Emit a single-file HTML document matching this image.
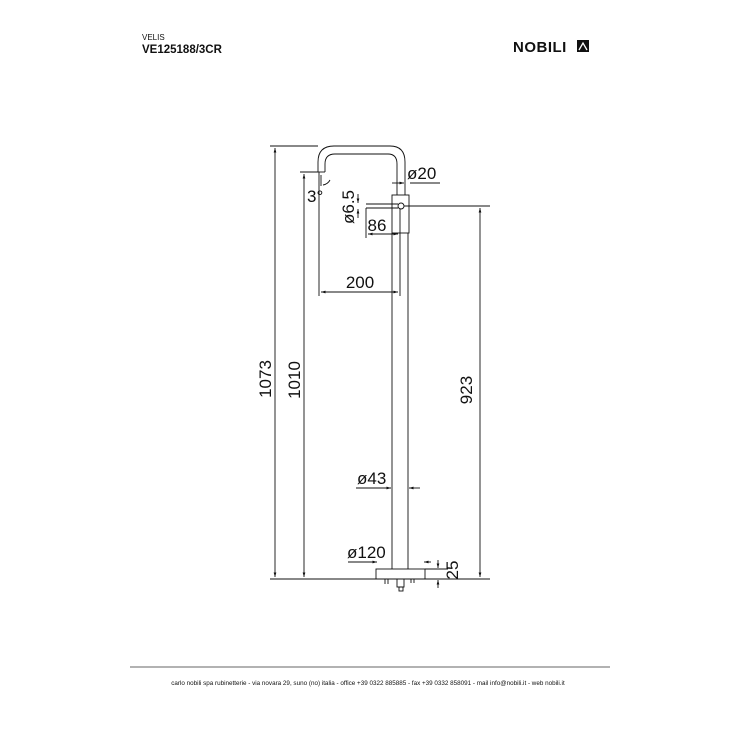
<!DOCTYPE html>
<html><head><meta charset="utf-8"><style>
body{margin:0;background:#fff}
svg{display:block}
text{font-family:"Liberation Sans",Arial,sans-serif;fill:#111}
</style></head><body>
<svg width="737" height="737" viewBox="0 0 737 737" xmlns="http://www.w3.org/2000/svg">
<defs>
<marker id="a" viewBox="0 0 10 10" refX="10" refY="5" markerWidth="5" markerHeight="5" orient="auto-start-reverse"><path d="M0,2 L10,5 L0,8 z" fill="#111"/></marker>
</defs>
<text x="142" y="40" font-size="8" fill="#555">VELIS</text>
<text x="142" y="53" font-size="11.5" font-weight="bold">VE125188/3CR</text>
<text x="513" y="52" font-size="15" font-weight="bold" letter-spacing="0.5">NOBILI</text>
<rect x="577" y="40" width="12" height="12" fill="#111"/>
<path d="M579,50 L583,43 L587,50" stroke="#fff" stroke-width="1.3" fill="none"/>
<line x1="130" y1="667" x2="610" y2="667" stroke="#333" stroke-width="0.8"/>
<text x="368" y="685" font-size="6.3" text-anchor="middle" fill="#444">carlo nobili spa rubinetterie - via novara 29, suno (no) italia - office +39 0322 885885 - fax +39 0332 858091 - mail info@nobili.it - web nobili.it</text>
<g stroke="#111" stroke-width="0.9" fill="none">
<path d="M318,172 L318,162 Q318,146 334,146 L390,146 Q405,146 405,162 L405,195"/>
<path d="M325,172 L325,164 Q325,154 335,154 L388,154 Q397,154 397,164 L397,195"/>
<line x1="318" y1="172" x2="325" y2="172"/>
<rect x="392" y="195" width="17" height="38"/>
<line x1="392" y1="233" x2="392" y2="569"/>
<line x1="408" y1="233" x2="408" y2="569"/>
<rect x="376" y="569" width="49" height="10"/>
<rect x="397" y="579" width="7" height="8"/>
<rect x="399" y="587" width="4" height="4"/>
<line x1="385" y1="579" x2="385" y2="584"/><line x1="388" y1="579" x2="388" y2="584"/>
<line x1="411" y1="579" x2="411" y2="583"/><line x1="414" y1="579" x2="414" y2="583"/>
<line x1="366" y1="204" x2="398" y2="204"/>
<line x1="366" y1="208" x2="398" y2="208"/>
<circle cx="401" cy="206" r="3"/>
<line x1="270" y1="579" x2="490" y2="579"/>
<line x1="270" y1="146" x2="318" y2="146"/>
<line x1="300" y1="172" x2="318" y2="172"/>
<line x1="404" y1="206" x2="490" y2="206"/>
<line x1="319" y1="172" x2="319" y2="296"/>
<line x1="366" y1="208" x2="366" y2="238"/>
<line x1="400" y1="209" x2="400" y2="296"/>
<line x1="321" y1="175" x2="321" y2="186"/>
<line x1="410" y1="183" x2="440" y2="183"/>
<line x1="425" y1="569" x2="448" y2="569"/>
<line x1="275" y1="148" x2="275" y2="577" marker-start="url(#a)" marker-end="url(#a)"/>
<line x1="304" y1="174" x2="304" y2="577" marker-start="url(#a)" marker-end="url(#a)"/>
<line x1="480" y1="208" x2="480" y2="577" marker-start="url(#a)" marker-end="url(#a)"/>
<line x1="321" y1="292" x2="398" y2="292" marker-start="url(#a)" marker-end="url(#a)"/>
<line x1="368" y1="234" x2="398" y2="234" marker-start="url(#a)" marker-end="url(#a)"/>
<line x1="392" y1="183" x2="404" y2="183" marker-end="url(#a)"/>
<line x1="358" y1="194" x2="358" y2="203" marker-end="url(#a)"/>
<line x1="358" y1="218" x2="358" y2="209" marker-end="url(#a)"/>
<line x1="356" y1="488" x2="391" y2="488" marker-end="url(#a)"/>
<line x1="420" y1="488" x2="409" y2="488" marker-end="url(#a)"/>
<line x1="348" y1="562" x2="377" y2="562" marker-end="url(#a)"/>
<line x1="431" y1="562" x2="424" y2="562" marker-end="url(#a)"/>
<line x1="438" y1="560" x2="438" y2="568" marker-end="url(#a)"/>
<line x1="438" y1="588" x2="438" y2="580" marker-end="url(#a)"/>
<path d="M323,185 Q328,184 330,180"/>
</g>
<g font-size="17">
<text x="360" y="288" text-anchor="middle">200</text>
<text x="377" y="231" text-anchor="middle">86</text>
<text x="407" y="179">ø20</text>
<text x="357" y="484">ø43</text>
<text x="347" y="558">ø120</text>
<text x="307" y="202">3°</text>
<text transform="translate(354,207) rotate(-90)" text-anchor="middle">ø6.5</text>
<text transform="translate(271,379) rotate(-90)" text-anchor="middle">1073</text>
<text transform="translate(300,380) rotate(-90)" text-anchor="middle">1010</text>
<text transform="translate(472,390) rotate(-90)" text-anchor="middle">923</text>
<text transform="translate(458,570) rotate(-90)" text-anchor="middle">25</text>
</g>
</svg>
</body></html>
